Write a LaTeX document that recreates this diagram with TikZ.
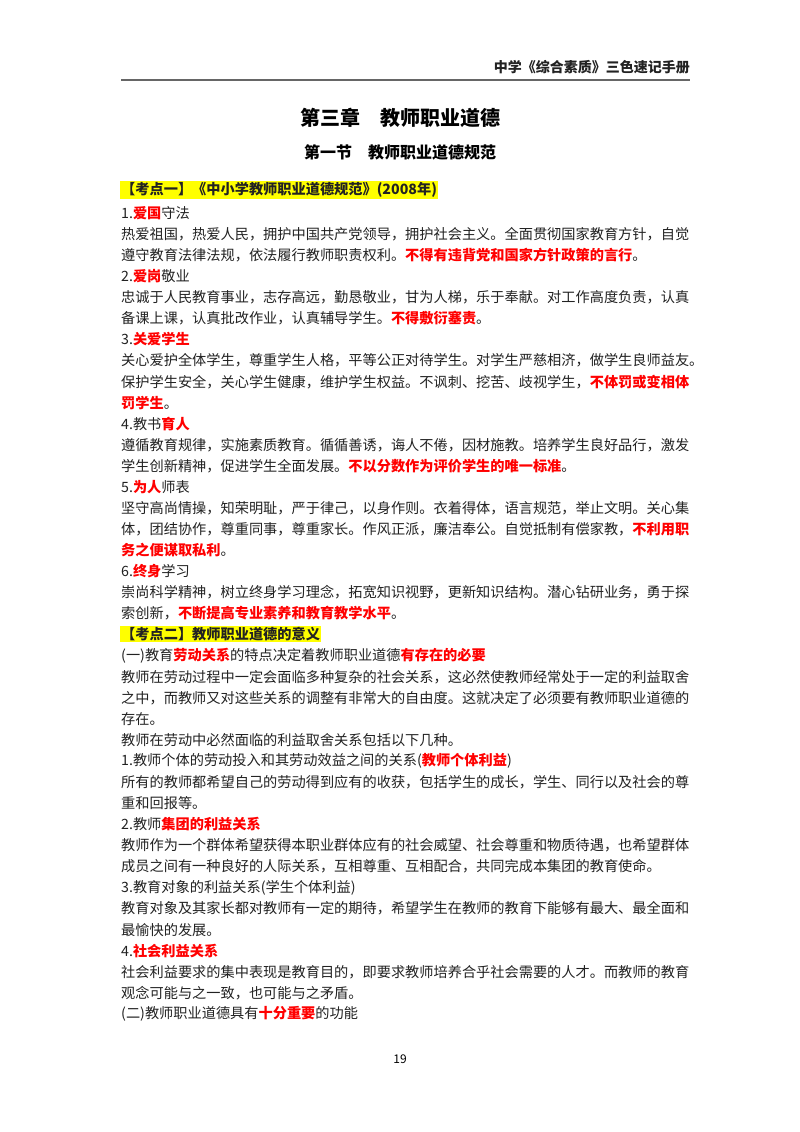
\documentclass[tikz,border=0pt]{standalone}
\usepackage{fontspec}
\setmainfont{Noto Sans CJK SC}
\newfontfamily\cjk{Noto Sans CJK SC}
\definecolor{hl}{HTML}{FFFF00}
\definecolor{ink}{HTML}{222222}
\newcommand{\R}[1]{{\color{red}\bfseries #1}}
\begin{document}
\begin{tikzpicture}[x=1pt,y=-1pt,
  body/.style={anchor=west,inner sep=0pt,font=\fontsize{14.2}{16}\selectfont,text=ink},
  kd/.style={anchor=west,inner sep=1pt,fill=hl,font=\fontsize{14.2}{16}\selectfont\bfseries,text=ink}]
\useasboundingbox[fill=white] (0,0) rectangle (800,1132);
\node[anchor=east,inner sep=0pt,font=\fontsize{14}{16}\selectfont\bfseries,text=ink] (hdr) at (690,67) {中学《综合素质》三色速记手册};
\draw[line width=1.2pt,gray!80!black] (121,80) -- (690,80);
\node[inner sep=0pt,font=\fontsize{20}{22}\selectfont\bfseries] (t1) at (400,118) {第三章\hspace{1em}教师职业道德};
\node[inner sep=0pt,font=\fontsize{16}{18}\selectfont\bfseries] (t2) at (400,152) {第一节\hspace{1em}教师职业道德规范};
\node[kd] (k1) at (120,190) {【考点一】《中小学教师职业道德规范》(2008年)};
\def\L#1{213+(#1-2)*21.08}
\node[body] (l2) at (121,{\L{2}}) {1.\R{爱国}守法};
\node[body] (l3) at (121,{\L{3}}) {热爱祖国，热爱人民，拥护中国共产党领导，拥护社会主义。全面贯彻国家教育方针，自觉};
\node[body] (l4) at (121,{\L{4}}) {遵守教育法律法规，依法履行教师职责权利。\R{不得有违背党和国家方针政策的言行}。};
\node[body] (l5) at (121,{\L{5}}) {2.\R{爱岗}敬业};
\node[body] (l6) at (121,{\L{6}}) {忠诚于人民教育事业，志存高远，勤恳敬业，甘为人梯，乐于奉献。对工作高度负责，认真};
\node[body] (l7) at (121,{\L{7}}) {备课上课，认真批改作业，认真辅导学生。\R{不得敷衍塞责}。};
\node[body] (l8) at (121,{\L{8}}) {3.\R{关爱学生}};
\node[body] (l9) at (121,{\L{9}}) {关心爱护全体学生，尊重学生人格，平等公正对待学生。对学生严慈相济，做学生良师益友。};
\node[body] (l10) at (121,{\L{10}}) {保护学生安全，关心学生健康，维护学生权益。不讽刺、挖苦、歧视学生，\R{不体罚或变相体}};
\node[body] (l11) at (121,{\L{11}}) {\R{罚学生}。};
\node[body] (l12) at (121,{\L{12}}) {4.教书\R{育人}};
\node[body] (l13) at (121,{\L{13}}) {遵循教育规律，实施素质教育。循循善诱，诲人不倦，因材施教。培养学生良好品行，激发};
\node[body] (l14) at (121,{\L{14}}) {学生创新精神，促进学生全面发展。\R{不以分数作为评价学生的唯一标准}。};
\node[body] (l15) at (121,{\L{15}}) {5.\R{为人}师表};
\node[body] (l16) at (121,{\L{16}}) {坚守高尚情操，知荣明耻，严于律己，以身作则。衣着得体，语言规范，举止文明。关心集};
\node[body] (l17) at (121,{\L{17}}) {体，团结协作，尊重同事，尊重家长。作风正派，廉洁奉公。自觉抵制有偿家教，\R{不利用职}};
\node[body] (l18) at (121,{\L{18}}) {\R{务之便谋取私利}。};
\node[body] (l19) at (121,{\L{19}}) {6.\R{终身}学习};
\node[body] (l20) at (121,{\L{20}}) {崇尚科学精神，树立终身学习理念，拓宽知识视野，更新知识结构。潜心钻研业务，勇于探};
\node[body] (l21) at (121,{\L{21}}) {索创新，\R{不断提高专业素养和教育教学水平}。};
\node[kd] (k2) at (120,{\L{22}-1}) {【考点二】教师职业道德的意义};
\node[body] (l23) at (121,{\L{23}}) {(一)教育\R{劳动关系}的特点决定着教师职业道德\R{有存在的必要}};
\node[body] (l24) at (121,{\L{24}}) {教师在劳动过程中一定会面临多种复杂的社会关系，这必然使教师经常处于一定的利益取舍};
\node[body] (l25) at (121,{\L{25}}) {之中，而教师又对这些关系的调整有非常大的自由度。这就决定了必须要有教师职业道德的};
\node[body] (l26) at (121,{\L{26}}) {存在。};
\node[body] (l27) at (121,{\L{27}}) {教师在劳动中必然面临的利益取舍关系包括以下几种。};
\node[body] (l28) at (121,{\L{28}}) {1.教师个体的劳动投入和其劳动效益之间的关系(\R{教师个体利益})};
\node[body] (l29) at (121,{\L{29}}) {所有的教师都希望自己的劳动得到应有的收获，包括学生的成长，学生、同行以及社会的尊};
\node[body] (l30) at (121,{\L{30}}) {重和回报等。};
\node[body] (l31) at (121,{\L{31}}) {2.教师\R{集团的利益关系}};
\node[body] (l32) at (121,{\L{32}}) {教师作为一个群体希望获得本职业群体应有的社会威望、社会尊重和物质待遇，也希望群体};
\node[body] (l33) at (121,{\L{33}}) {成员之间有一种良好的人际关系，互相尊重、互相配合，共同完成本集团的教育使命。};
\node[body] (l34) at (121,{\L{34}}) {3.教育对象的利益关系(学生个体利益)};
\node[body] (l35) at (121,{\L{35}}) {教育对象及其家长都对教师有一定的期待，希望学生在教师的教育下能够有最大、最全面和};
\node[body] (l36) at (121,{\L{36}}) {最愉快的发展。};
\node[body] (l37) at (121,{\L{37}}) {4.\R{社会利益关系}};
\node[body] (l38) at (121,{\L{38}}) {社会利益要求的集中表现是教育目的，即要求教师培养合乎社会需要的人才。而教师的教育};
\node[body] (l39) at (121,{\L{39}}) {观念可能与之一致，也可能与之矛盾。};
\node[body] (l40) at (121,{\L{40}}) {(二)教师职业道德具有\R{十分重要}的功能};
\node[inner sep=0pt,font=\fontsize{12}{14}\selectfont] (pg) at (400,1059) {19};
\end{tikzpicture}
\end{document}
